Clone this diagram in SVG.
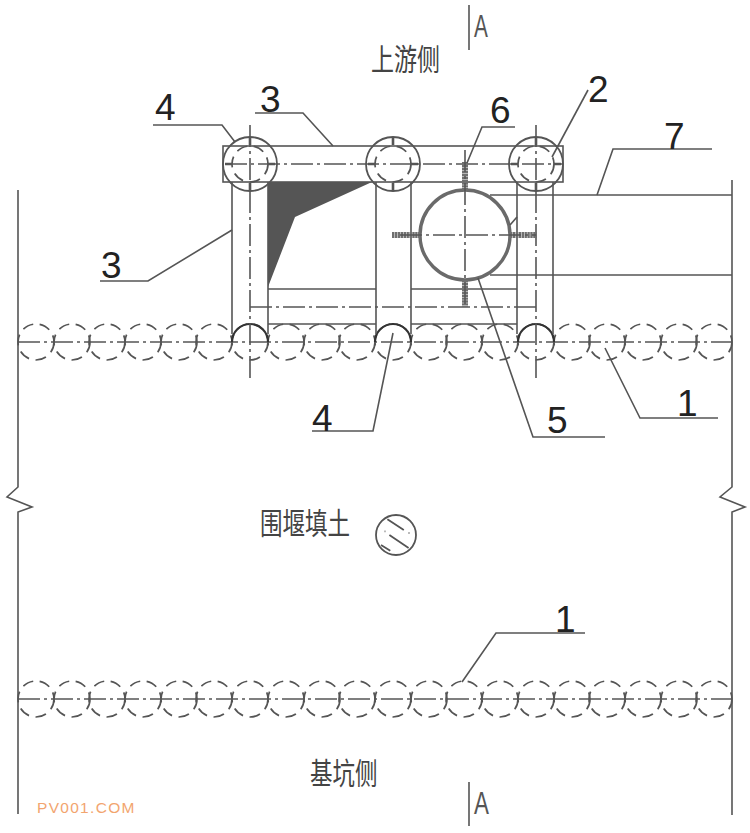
<svg xmlns="http://www.w3.org/2000/svg" width="750" height="833" viewBox="0 0 750 833">
<style>
.l{fill:none;stroke:#555;stroke-width:1.6}
.h{fill:none;stroke:#555;stroke-width:1.8}
.arc{fill:none;stroke:#333;stroke-width:2.2}
.c{fill:none;stroke:#555;stroke-width:1.6;stroke-dasharray:22 4 3 4}
.d{fill:none;stroke:#555;stroke-width:1.7;stroke-dasharray:11 6.6}
.m{fill:none;stroke:#555;stroke-width:2.6}
.s{fill:none;stroke:#6f6f6f;stroke-width:6;stroke-dasharray:2.4 .5}
.t{font-family:"Liberation Sans",Arial,sans-serif;font-size:37px;fill:#222}
.z{font-family:"Noto Sans CJK SC","Noto Sans",sans-serif;font-size:23px;fill:#444}
.a{font-family:"Liberation Sans",Arial,sans-serif;font-size:32px;fill:#555}
</style>
<defs><circle id="p" r="18" class="d"/></defs>
<rect width="750" height="833" fill="#fff"/>
<g id="boundaries">
<path class="l" d="M18 190V487L7 497 32 507 18 512V814"/>
<path class="l" d="M732 180V487L720 497 745 507 732 512V815"/>
<path class="l" d="M469 5V50M469 782V826"/>
</g>
<g id="piles-top">
<use href="#p" x="36" y="342"/><use href="#p" x="72" y="342"/><use href="#p" x="107" y="342"/><use href="#p" x="143" y="342"/><use href="#p" x="179" y="342"/><use href="#p" x="214" y="342"/><use href="#p" x="250" y="342"/><use href="#p" x="286" y="342"/><use href="#p" x="322" y="342"/><use href="#p" x="357" y="342"/><use href="#p" x="393" y="342"/><use href="#p" x="429" y="342"/><use href="#p" x="464" y="342"/><use href="#p" x="500" y="342"/><use href="#p" x="536" y="342"/><use href="#p" x="572" y="342"/><use href="#p" x="607" y="342"/><use href="#p" x="643" y="342"/><use href="#p" x="679" y="342"/><use href="#p" x="714" y="342"/>
<path class="c" d="M18 342H732"/>
<path class="arc" d="M232 342A18 18 0 0 1 268 342M375 342A18 18 0 0 1 411 342M518 342A18 18 0 0 1 554 342"/>
</g>
<g id="piles-bottom">
<use href="#p" x="36" y="699"/><use href="#p" x="72" y="699"/><use href="#p" x="107" y="699"/><use href="#p" x="143" y="699"/><use href="#p" x="179" y="699"/><use href="#p" x="214" y="699"/><use href="#p" x="250" y="699"/><use href="#p" x="286" y="699"/><use href="#p" x="322" y="699"/><use href="#p" x="357" y="699"/><use href="#p" x="393" y="699"/><use href="#p" x="429" y="699"/><use href="#p" x="464" y="699"/><use href="#p" x="500" y="699"/><use href="#p" x="536" y="699"/><use href="#p" x="572" y="699"/><use href="#p" x="607" y="699"/><use href="#p" x="643" y="699"/><use href="#p" x="679" y="699"/><use href="#p" x="714" y="699"/>
<path class="c" d="M18 699H732"/>
</g>
<g id="frame">
<rect class="l" x="223" y="146" width="340" height="36"/>
<path class="l" d="M232 182V334M268 182V334M376 182V334M411 182V334M517 182V334M553 182V334"/>
<path class="l" d="M268 289H376M411 289H517M268 324H376M411 324H517"/>
<path d="M268 182H372L295 217 268 287Z" fill="#555"/>
<path class="c" d="M250 307H536M225 164H563"/>
<path class="c" d="M250 125V380M536 125V382"/>
</g>
<g id="column-left"><circle class="h" cx="250" cy="164" r="27"/><circle class="d" cx="250" cy="164" r="18"/><path class="m" d="M225 164H232M268 164H275M250 138V145M250 183V190"/></g>
<g id="column-middle"><circle class="h" cx="393" cy="164" r="27"/><circle class="d" cx="393" cy="164" r="18"/><path class="m" d="M368 164H375M411 164H418M393 138V145M393 183V190"/></g>
<g id="column-right"><circle class="h" cx="536" cy="164" r="27"/><circle class="d" cx="536" cy="164" r="18"/><path class="m" d="M511 164H518M554 164H561M536 138V145M536 183V190"/></g>
<g id="pipe">
<path class="l" d="M490 195H732M490 275H732"/>
<circle cx="465" cy="235" r="45" fill="#fff" stroke="#6a6a6a" stroke-width="3.4"/>
<path class="s" d="M465 162V190M465 280V307"/>
<path class="s" d="M392 235H420M510 235H537"/>
<path class="c" d="M465 150V307M400 235H536"/>
</g>
<g id="symbol">
<circle class="h" cx="396" cy="535" r="20"/>
<path class="h" d="M387.400 519.300L403.800 530.100M389.400 535L408.600 547.900M381 545L390.300 550.700"/>
<path class="h" d="M384.600 531.300h.8M408.600 533h.8"/>
</g>
<g id="connectors">
<path class="l" d="M153 125H222L235 142"/>
<path class="l" d="M255 113H303L333 146"/>
<path class="l" d="M100 281H148L232 230"/>
<path class="l" d="M312 431H373L393 333"/>
<path class="l" d="M515 127H482L467 163"/>
<path class="l" d="M588 90L552 157"/>
<path class="l" d="M712 149H613L597 195"/>
<path class="l" d="M718 418H640L605 348"/>
<path class="l" d="M605 437H533L478 278"/>
<path class="l" d="M510 225L517 217"/>
<path class="l" d="M585 633H496L462 682"/>
</g>
<g id="labels">
<text class="t" x="155" y="120">4</text>
<text class="t" x="260" y="112">3</text>
<text class="t" x="101" y="278">3</text>
<text class="t" x="312" y="431">4</text>
<text class="t" x="490" y="123">6</text>
<text class="t" x="588" y="102">2</text>
<text class="t" x="664" y="149">7</text>
<text class="t" x="677" y="416">1</text>
<text class="t" x="547" y="433">5</text>
<text class="t" x="555" y="632">1</text>
<text class="z" transform="translate(371 70) scale(1 1.3)">上游侧</text>
<text class="z" transform="translate(260 534) scale(.98 1.3)">围堰填土</text>
<text class="z" transform="translate(310 784) scale(.98 1.3)">基坑侧</text>
<text class="a" transform="translate(474 37) scale(.65 1)">A</text>
<text class="a" transform="translate(474 814) scale(.7 1)">A</text>
<text x="37" y="813" font-family="'Liberation Sans',Arial,sans-serif" font-size="15.500" letter-spacing="1.300" fill="#f2a56f">PV001.COM</text>
</g>
</svg>
